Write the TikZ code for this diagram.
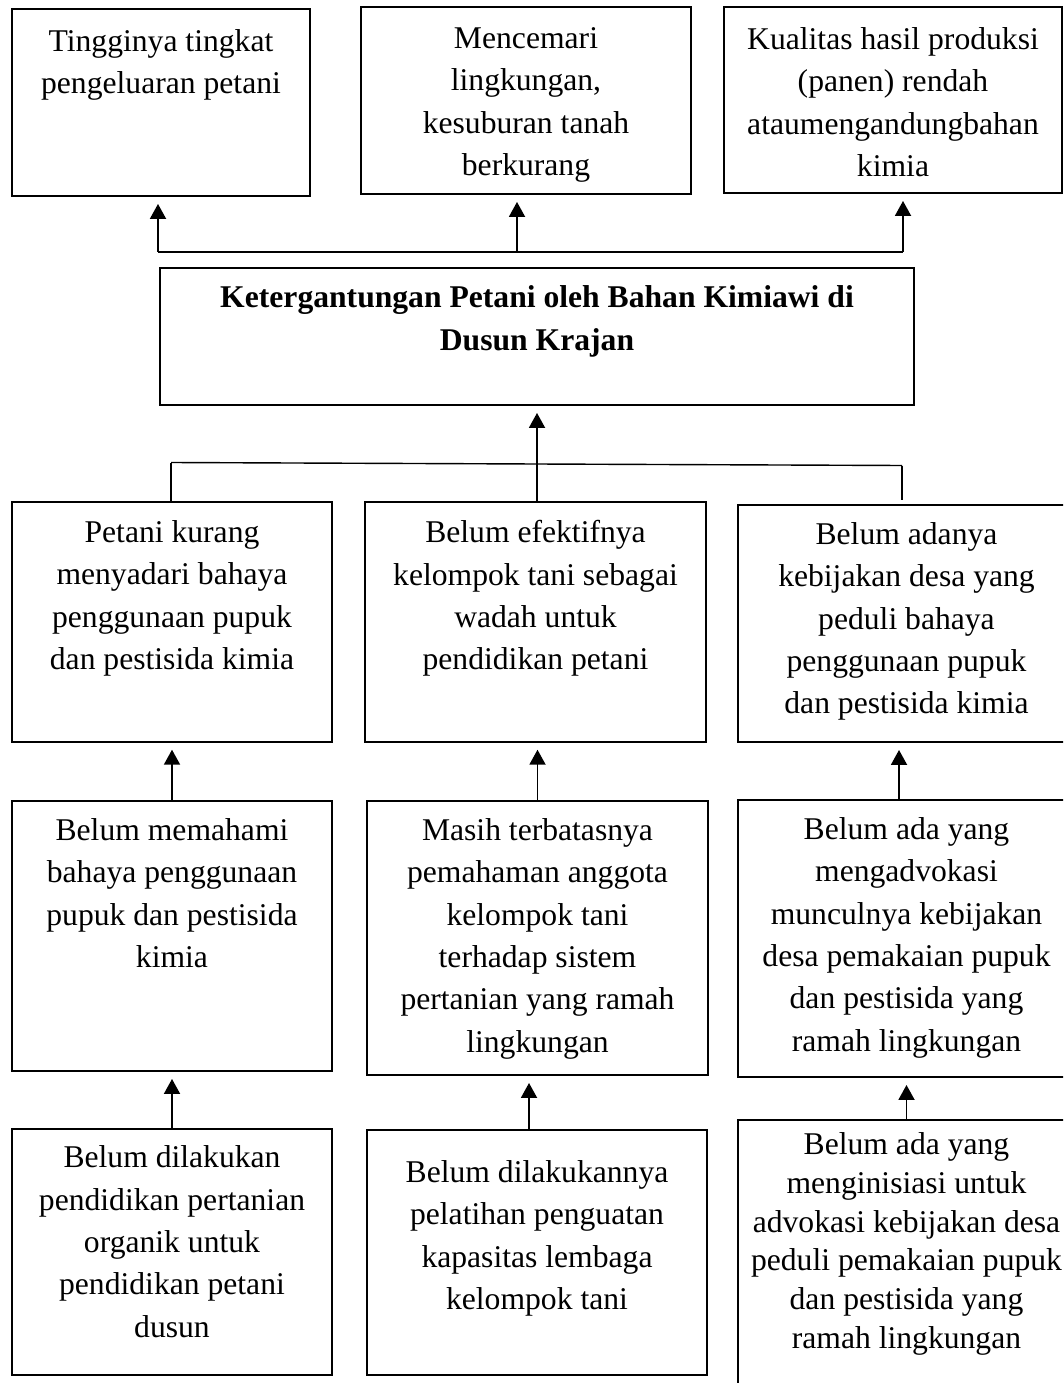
\documentclass[tikz,border=0pt]{standalone}
\usepackage{fontspec}
\setmainfont{Liberation Serif}
\usetikzlibrary{arrows.meta,calc}

\begin{document}
\begin{tikzpicture}[
    kotak/.style={rectangle, draw, line width=1.1pt},
    isi/.style={anchor=north, align=center, inner sep=0pt, font={\fontsize{18}{24.1}\selectfont}},
    isirapat/.style={isi, font={\fontsize{18}{22}\selectfont}},
    panah/.style={-{Triangle[width=0.32cm, length=0.3cm]}, line width=1.1pt, shorten >=0.14cm},
    garis/.style={line width=1.1pt},
    garistipis/.style={line width=0.8pt}
]

\path[use as bounding box, clip] (0,0) rectangle (21.26,-27.66);

% Akibat (baris atas)
\node[kotak, minimum width=5.96cm, minimum height=3.74cm] (tinggi) at (3.22,-2.05) {};
\node[isi] (tinggi-t) at ($(tinggi.north)+(0,-0.42)$) {Tingginya tingkat\\pengeluaran petani};

\node[kotak, minimum width=6.6cm, minimum height=3.74cm] (cemar) at (10.52,-2.01) {};
\node[isi] (cemar-t) at ($(cemar.north)+(0,-0.42)$) {Mencemari\\lingkungan,\\kesuburan tanah\\berkurang};

\node[kotak, minimum width=6.76cm, minimum height=3.72cm] (kualitas) at (17.86,-2.0) {};
\node[isi] (kualitas-t) at ($(kualitas.north)+(0,-0.42)$) {Kualitas hasil produksi\\(panen) rendah\\ataumengandungbahan\\kimia};

% Masalah inti
\node[kotak, minimum width=15.08cm, minimum height=2.74cm] (pusat) at (10.74,-6.73) {};
\node[isi, font={\fontsize{18}{24.1}\selectfont\bfseries}] (pusat-t) at ($(pusat.north)+(0,-0.37)$) {Ketergantungan Petani oleh Bahan Kimiawi di\\Dusun Krajan};

% Penyebab (baris kedua)
\node[kotak, minimum width=6.4cm, minimum height=4.79cm] (sadar) at (3.44,-12.44) {};
\node[isi] (sadar-t) at ($(sadar.north)+(0,-0.38)$) {Petani kurang\\menyadari bahaya\\penggunaan pupuk\\dan pestisida kimia};

\node[kotak, minimum width=6.81cm, minimum height=4.79cm] (efektif) at (10.71,-12.44) {};
\node[isi] (efektif-t) at ($(efektif.north)+(0,-0.38)$) {Belum efektifnya\\kelompok tani sebagai\\wadah untuk\\pendidikan petani};

\node[kotak, minimum width=6.74cm, minimum height=4.74cm] (bijak) at (18.13,-12.47) {};
\node[isi] (bijak-t) at ($(bijak.north)+(0,-0.36)$) {Belum adanya\\kebijakan desa yang\\peduli bahaya\\penggunaan pupuk\\dan pestisida kimia};

% Penyebab (baris ketiga)
\node[kotak, minimum width=6.4cm, minimum height=5.4cm] (paham) at (3.44,-18.72) {};
\node[isi] (paham-t) at ($(paham.north)+(0,-0.36)$) {Belum memahami\\bahaya penggunaan\\pupuk dan pestisida\\kimia};

\node[kotak, minimum width=6.82cm, minimum height=5.48cm] (terbatas) at (10.75,-18.76) {};
\node[isi] (terbatas-t) at ($(terbatas.north)+(0,-0.36)$) {Masih terbatasnya\\pemahaman anggota\\kelompok tani\\terhadap sistem\\pertanian yang ramah\\lingkungan};

\node[kotak, minimum width=6.74cm, minimum height=5.54cm] (advokasi) at (18.13,-18.77) {};
\node[isi] (advokasi-t) at ($(advokasi.north)+(0,-0.36)$) {Belum ada yang\\mengadvokasi\\munculnya kebijakan\\desa pemakaian pupuk\\dan pestisida yang\\ramah lingkungan};

% Akar masalah (baris bawah)
\node[kotak, minimum width=6.4cm, minimum height=4.92cm] (didik) at (3.44,-25.04) {};
\node[isi] (didik-t) at ($(didik.north)+(0,-0.35)$) {Belum dilakukan\\pendidikan pertanian\\organik untuk\\pendidikan petani\\dusun};

\node[kotak, minimum width=6.8cm, minimum height=4.9cm] (latih) at (10.74,-25.05) {};
\node[isi] (latih-t) at ($(latih.north)+(0,-0.62)$) {Belum dilakukannya\\pelatihan penguatan\\kapasitas lembaga\\kelompok tani};

\node[kotak, minimum width=6.74cm, minimum height=5.6cm] (inisiasi) at (18.13,-25.2) {};
\node[isirapat] (inisiasi-t) at ($(inisiasi.north)+(0,-0.27)$) {Belum ada yang\\menginisiasi untuk\\advokasi kebijakan desa\\peduli pemakaian pupuk\\dan pestisida yang\\ramah lingkungan};

% Garis ke akibat
\coordinate (ka1) at (3.16,-5.04);
\coordinate (ka2) at (10.34,-5.04);
\coordinate (ka3) at (18.06,-5.04);
\draw[garis] (ka1) -- (ka3);
\draw[panah] (ka1) -- (ka1 |- tinggi.south);
\draw[panah] (ka2) -- (ka2 |- cemar.south);
\draw[panah] (ka3) -- (ka3 |- kualitas.south);

% Garis dari penyebab
\coordinate (kb1) at (3.42,-9.25);
\coordinate (kb2) at (10.74,-9.28);
\coordinate (kb3) at (18.04,-9.31);
\draw[garistipis] (kb1) -- (kb3);
\draw[garistipis] (kb1) -- (kb1 |- sadar.north);
\draw[garistipis] (kb2) -- (kb2 |- efektif.north);
\draw[garistipis] (kb3) -- ($(kb3 |- bijak.north)+(0,0.08)$);
\draw[panah] (kb2) -- (kb2 |- pusat.south);

% Panah antar baris
\draw[panah] (paham.north) -- (paham.north |- sadar.south);
\draw[panah] (terbatas.north) -- (terbatas.north |- efektif.south);
\draw[panah] ([xshift=-0.15cm]advokasi.north) -- ([xshift=-0.15cm]advokasi.north |- bijak.south);

\draw[panah] (didik.north) -- (didik.north |- paham.south);
\draw[panah] ([xshift=-0.16cm]latih.north) -- ([xshift=-0.16cm]latih.north |- terbatas.south);
\draw[panah] (inisiasi.north) -- (inisiasi.north |- advokasi.south);

\end{tikzpicture}
\end{document}
